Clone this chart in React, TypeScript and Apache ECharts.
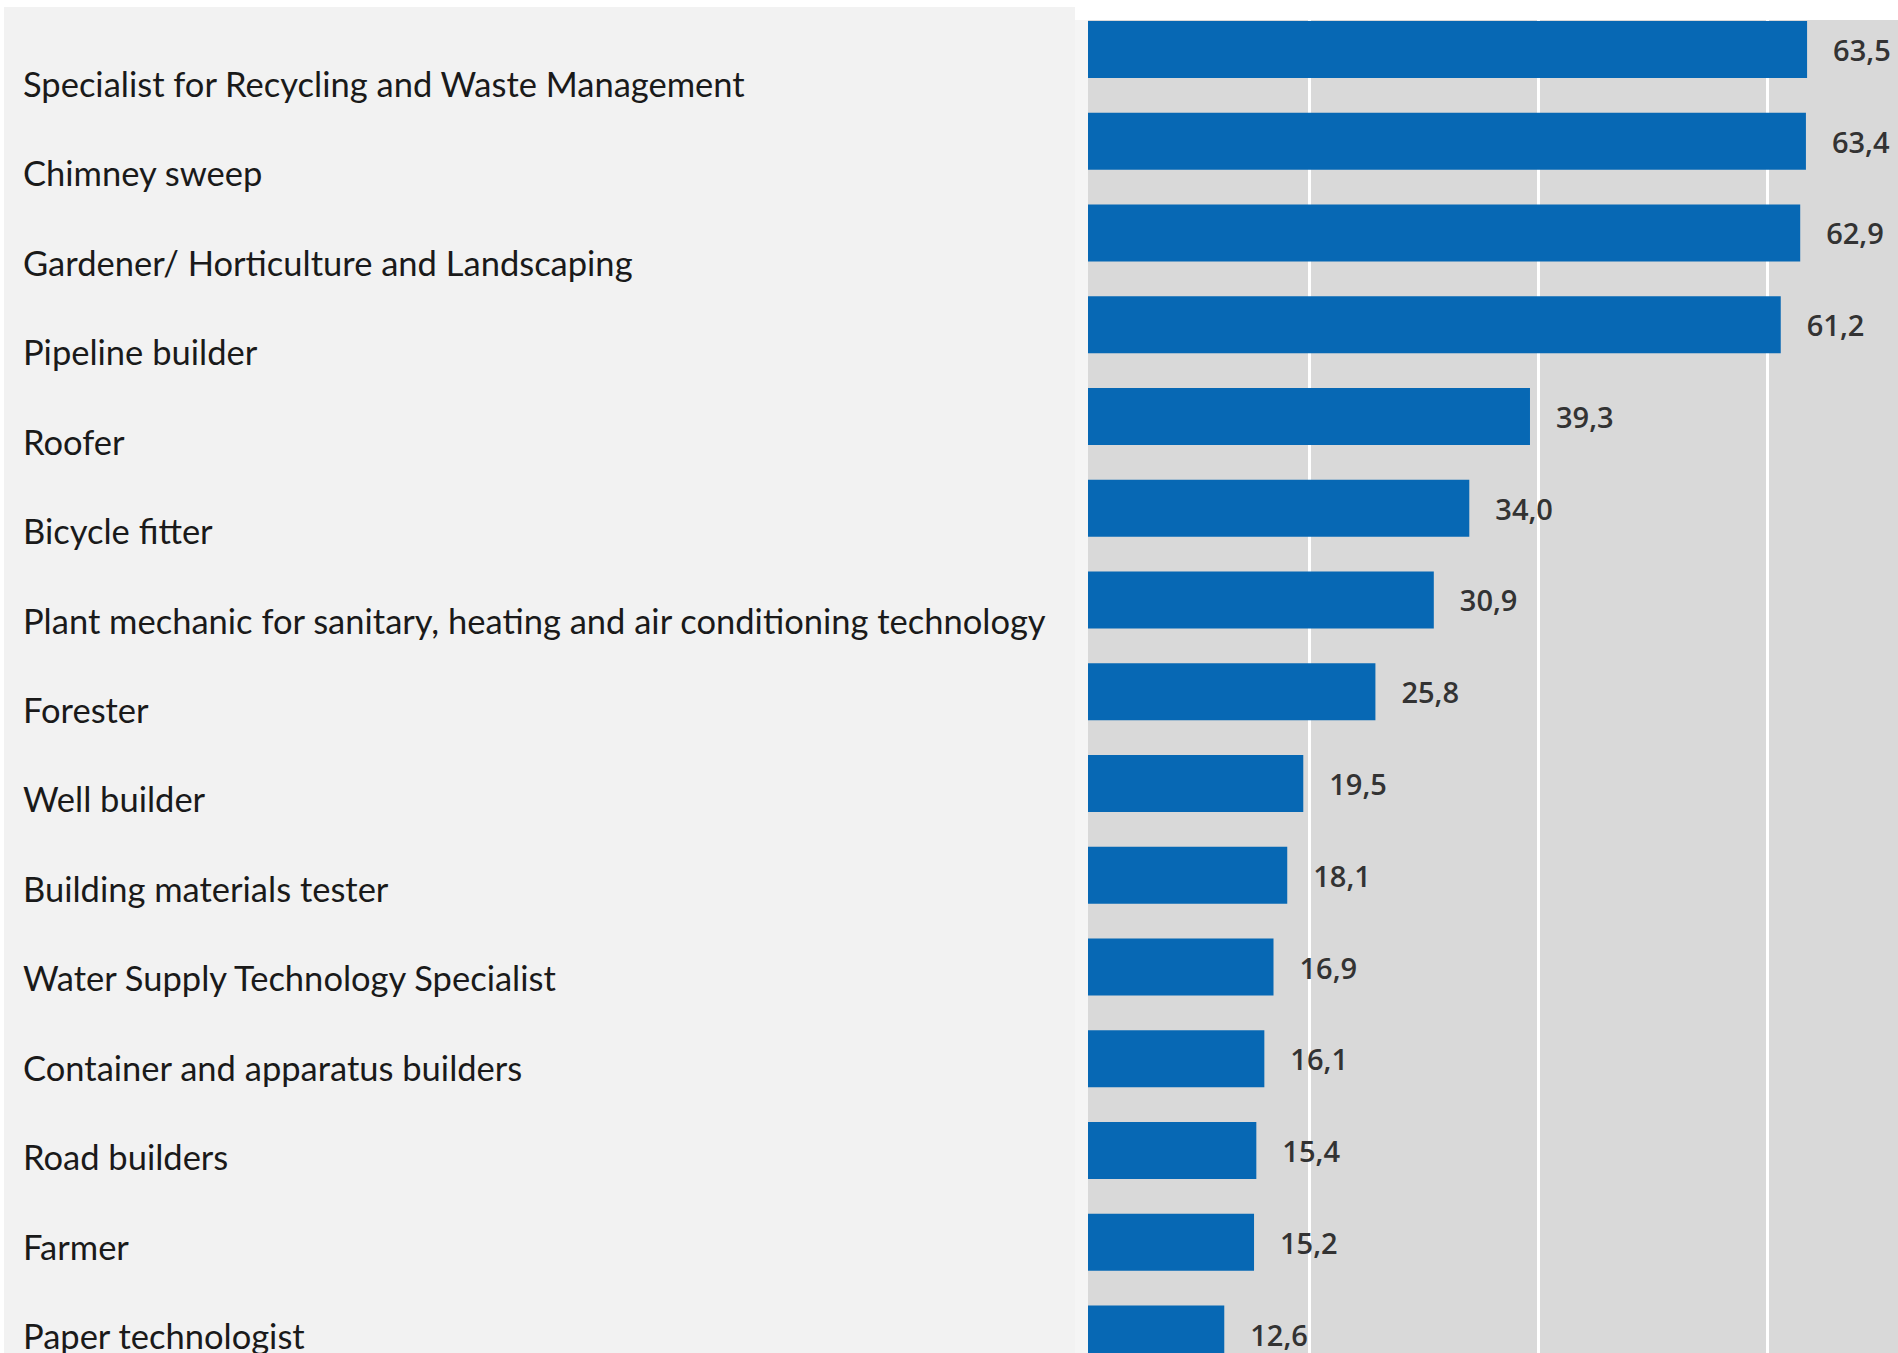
import React, { useEffect, useRef } from "react";
import * as echarts from "echarts";

const categories = [
  "Specialist for Recycling and Waste Management",
  "Chimney sweep",
  "Gardener/ Horticulture and Landscaping",
  "Pipeline builder",
  "Roofer",
  "Bicycle fitter",
  "Plant mechanic for sanitary, heating and air conditioning technology",
  "Forester",
  "Well builder",
  "Building materials tester",
  "Water Supply Technology Specialist",
  "Container and apparatus builders",
  "Road builders",
  "Farmer",
  "Paper technologist",
];

const values = [63.5, 63.4, 62.9, 61.2, 39.3, 34.0, 30.9, 25.8, 19.5, 18.1, 16.9, 16.1, 15.4, 15.2, 12.6];

const xTickInterval = 20;

export default function App() {
  const ref = useRef<HTMLDivElement>(null);

  useEffect(() => {
    if (!ref.current) return;
    const chart = echarts.init(ref.current, null, { renderer: "svg" });
    const W = 1898;
    const H = 1420;
    const zeroX = 1080;
    const pxPerUnit = 11.45;
    const axisMax = (W - zeroX) / pxPerUnit;

    chart.setOption({
      animation: false,
      backgroundColor: "#ffffff",
      graphic: [
        {
          type: "rect",
          z: -10,
          silent: true,
          shape: { x: 4, y: 7, width: 1071, height: H - 7 },
          style: { fill: "#f2f2f2" },
        },
        {
          type: "rect",
          z: -10,
          silent: true,
          shape: { x: 1088, y: 20, width: W - 1088, height: H - 20 },
          style: { fill: "#d9d9d9" },
        },
        {
          type: "rect",
          z: 100,
          silent: true,
          shape: { x: 1075, y: 20, width: 13, height: H - 20 },
          style: { fill: "#f5f5f5" },
        },
      ],
      grid: [
        {
          left: zeroX,
          width: W - zeroX,
          top: 3.5,
          height: 1376.5,
          containLabel: false,
        },
        {
          left: 1075,
          width: 1,
          top: 38.3,
          height: 1342.4,
          containLabel: false,
        },
      ],
      xAxis: [
        {
          type: "value",
          gridIndex: 0,
          min: 0,
          max: axisMax,
          interval: xTickInterval,
          axisLine: { show: false },
          axisTick: { show: false },
          axisLabel: { show: false },
          splitLine: {
            show: true,
            showMinLine: false,
            showMaxLine: false,
            lineStyle: { color: "#ffffff", width: 3 },
          },
        },
        {
          type: "value",
          gridIndex: 1,
          show: false,
          min: 0,
          max: 1,
        },
      ],
      yAxis: [
        {
          type: "category",
          gridIndex: 0,
          data: categories,
          inverse: true,
          axisLine: { show: false },
          axisTick: { show: false },
          axisLabel: { show: false },
          splitLine: { show: false },
        },
        {
          type: "category",
          gridIndex: 1,
          data: categories,
          inverse: true,
          axisLine: { show: false },
          axisTick: { show: false },
          splitLine: { show: false },
          axisLabel: {
            show: true,
            interval: 0,
            align: "left",
            margin: 1075 - 23,
            fontFamily: "Lato",
            fontSize: 34.5,
            color: "#1a1a1a",
          },
        },
      ],
      series: [
        {
          type: "bar",
          xAxisIndex: 0,
          yAxisIndex: 0,
          data: values,
          barWidth: 57,
          itemStyle: { color: "#0768b4" },
          label: {
            show: true,
            position: "right",
            distance: 26,
            fontFamily: "Open Sans",
            fontWeight: 600,
            fontSize: 29,
            color: "#333333",
            formatter: (p: any) => Number(p.value).toFixed(1).replace(".", ","),
          },
        },
      ],
    });

    return () => {
      chart.dispose();
    };
  }, []);

  return (
    <div
      ref={ref}
      style={{ position: "fixed", left: 0, top: 0, width: 1898, height: 1420 }}
    />
  );
}
